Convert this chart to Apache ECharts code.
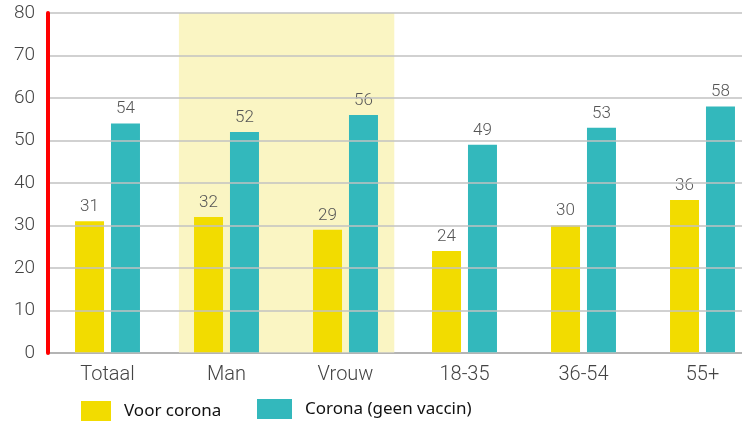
<!DOCTYPE html>
<html>
<head>
<meta charset="utf-8">
<script src="https://cdn.jsdelivr.net/npm/echarts@6/dist/echarts.min.js"></script>
<style>
html,body{margin:0;padding:0;background:#fff;}
#chart{width:742px;height:421px;}
</style>
</head>
<body>
<div id="chart"></div>
<script>
const categories = ['Totaal', 'Man', 'Vrouw', '18-35', '36-54', '55+'];
const voorCorona = [31, 32, 29, 24, 30, 36];
const coronaGeenVaccin = [54, 52, 56, 49, 53, 58];
const seriesNames = ['Voor corona', 'Corona (geen vaccin)'];
const yTicks = [0, 10, 20, 30, 40, 50, 60, 70, 80];

const highlightFrom = 1.1;
const highlightTo = 2.91;

const chart = echarts.init(document.getElementById('chart'), null, {renderer: 'canvas'});
const thinFont = 'Roboto';
const gridRect = {left: 48, width: 714, top: 13, height: 340, containLabel: false, outerBoundsMode: 'none'};
const option = {
  animation: false,
  backgroundColor: '#ffffff',
  grid: [Object.assign({}, gridRect), Object.assign({}, gridRect)],
  legend: [
    {
      data: [seriesNames[0]], left: 76, top: 396, itemWidth: 30, itemHeight: 20, icon: 'rect',
      textStyle: {fontFamily: 'Noto Sans', fontSize: 17, color: '#111', padding: [0, 0, 0, 8]}
    },
    {
      data: [seriesNames[1]], left: 252, top: 394, itemWidth: 35, itemHeight: 20, icon: 'rect',
      textStyle: {fontFamily: 'Noto Sans', fontSize: 17, color: '#111', padding: [0, 0, 0, 8]}
    }
  ],
  xAxis: [
    {
      type: 'category', data: categories, gridIndex: 0,
      axisLine: {show: true, lineStyle: {color: '#8a8a8a', width: 2}},
      axisTick: {show: false},
      axisLabel: {fontFamily: thinFont, fontWeight: 300, fontSize: 20, color: '#444', margin: 12}
    },
    {
      type: 'value', gridIndex: 1, min: 0, max: categories.length, show: false
    }
  ],
  yAxis: [
    {
      type: 'value', gridIndex: 0, min: 0, max: 80, interval: 10, position: 'left', z: 10,
      axisLine: {show: true, onZero: false, lineStyle: {color: '#ff0000', width: 4}},
      axisTick: {show: false},
      splitLine: {lineStyle: {color: '#c2c2c2', width: 1.5}},
      axisLabel: {fontFamily: thinFont, fontWeight: 300, fontSize: 19, color: '#444', margin: 13, padding: [10, 0, 0, 0],
        formatter: v => yTicks.includes(v) ? String(v) : ''}
    },
    {type: 'value', gridIndex: 1, min: 0, max: 80, show: false}
  ],
  series: [
    {
      type: 'line', xAxisIndex: 1, yAxisIndex: 1, data: [], z: -1, silent: true,
      markArea: {silent: true, itemStyle: {color: '#faf5c3'}, data: [[{xAxis: highlightFrom}, {xAxis: highlightTo}]]}
    },
    {
      name: seriesNames[0], type: 'bar', data: voorCorona, barWidth: 29, barGap: '24%',
      itemStyle: {color: '#f2dc00'},
      label: {show: true, position: 'top', distance: 6, fontFamily: thinFont, fontWeight: 300, fontSize: 17, color: '#555'}
    },
    {
      name: seriesNames[1], type: 'bar', data: coronaGeenVaccin, barWidth: 29, barGap: '24%',
      itemStyle: {color: '#33b8bc'},
      label: {show: true, position: 'top', distance: 6, fontFamily: thinFont, fontWeight: 300, fontSize: 17, color: '#555'}
    }
  ]
};
chart.setOption(option);
</script>
</body>
</html>
